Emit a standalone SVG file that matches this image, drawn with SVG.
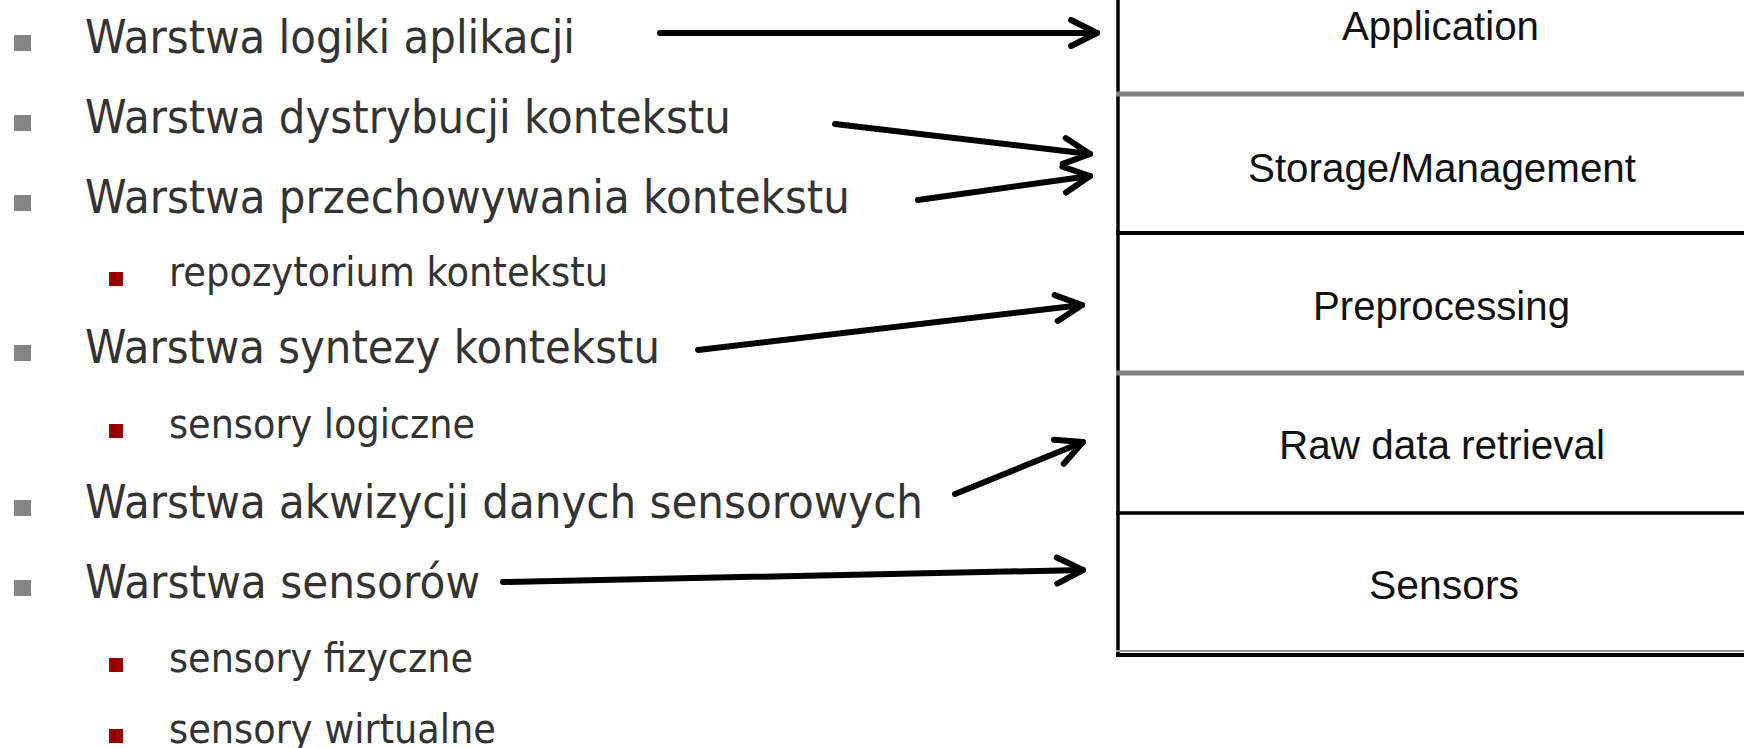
<svg xmlns="http://www.w3.org/2000/svg" width="1744" height="748" viewBox="0 0 1744 748">
<style>
.main{font-family:"DejaVu Sans","Liberation Sans",sans-serif;font-size:47px;fill:#333333}
.sub{font-family:"DejaVu Sans","Liberation Sans",sans-serif;font-size:41px;fill:#333333}
.b1{fill:#858585}
.b2{fill:#990000}
.lbl{font-family:"Liberation Sans",Arial,sans-serif;font-size:40px;fill:#111111}
.arr{stroke:#000;stroke-width:6;stroke-linecap:round;fill:none;marker-end:url(#head)}
</style>
<defs>
<marker id="head" markerUnits="userSpaceOnUse" viewBox="-34 -20 40 40" refX="0" refY="0" markerWidth="40" markerHeight="40" orient="auto" overflow="visible">
<path d="M-26,-13 L0,0 L-26,13" fill="none" stroke="#000" stroke-width="6" stroke-linecap="round" stroke-linejoin="round"/>
</marker>
</defs>
<rect width="1744" height="748" fill="#ffffff"/>
<g id="list">
<g id="item1"><rect class="b1" x="14" y="35" width="17" height="16"/><text class="main" x="85" y="53" textLength="490" lengthAdjust="spacingAndGlyphs">Warstwa logiki aplikacji</text></g>
<g id="item2"><rect class="b1" x="14" y="115" width="17" height="16"/><text class="main" x="85" y="133" textLength="646" lengthAdjust="spacingAndGlyphs">Warstwa dystrybucji kontekstu</text></g>
<g id="item3"><rect class="b1" x="14" y="195" width="17" height="16"/><text class="main" x="85" y="213" textLength="765" lengthAdjust="spacingAndGlyphs">Warstwa przechowywania kontekstu</text></g>
<g id="item3a"><rect class="b2" x="109" y="272" width="14" height="14"/><text class="sub" x="169" y="286" textLength="439" lengthAdjust="spacingAndGlyphs">repozytorium kontekstu</text></g>
<g id="item4"><rect class="b1" x="14" y="345" width="17" height="16"/><text class="main" x="85" y="363" textLength="575" lengthAdjust="spacingAndGlyphs">Warstwa syntezy kontekstu</text></g>
<g id="item4a"><rect class="b2" x="109" y="424" width="14" height="14"/><text class="sub" x="169" y="438" textLength="306" lengthAdjust="spacingAndGlyphs">sensory logiczne</text></g>
<g id="item5"><rect class="b1" x="14" y="500" width="17" height="16"/><text class="main" x="85" y="518" textLength="838" lengthAdjust="spacingAndGlyphs">Warstwa akwizycji danych sensorowych</text></g>
<g id="item6"><rect class="b1" x="14" y="580" width="17" height="16"/><text class="main" x="85" y="598" textLength="395" lengthAdjust="spacingAndGlyphs">Warstwa sensorów</text></g>
<g id="item6a"><rect class="b2" x="109" y="658" width="14" height="14"/><text class="sub" x="169" y="672" textLength="304" lengthAdjust="spacingAndGlyphs">sensory fizyczne</text></g>
<g id="item6b"><rect class="b2" x="109" y="729" width="14" height="14"/><text class="sub" x="169" y="743" textLength="327" lengthAdjust="spacingAndGlyphs">sensory wirtualne</text></g>
</g>
<g id="stack">
<line x1="1118" y1="0" x2="1118" y2="657" stroke="#000" stroke-width="3.5"/>
<line x1="1116" y1="94" x2="1744" y2="94" stroke="#808080" stroke-width="5"/>
<line x1="1116" y1="233" x2="1744" y2="233" stroke="#000" stroke-width="4"/>
<line x1="1116" y1="373" x2="1744" y2="373" stroke="#808080" stroke-width="5"/>
<line x1="1116" y1="513" x2="1744" y2="513" stroke="#000" stroke-width="3.5"/>
<line x1="1116" y1="651" x2="1744" y2="651" stroke="#9a9a9a" stroke-width="2"/>
<line x1="1116" y1="655" x2="1744" y2="655" stroke="#000" stroke-width="4"/>
</g>
<g id="layer-application"><text class="lbl" x="1342" y="40" textLength="197" lengthAdjust="spacingAndGlyphs">Application</text></g>
<g id="layer-storage"><text class="lbl" x="1248" y="182" textLength="388" lengthAdjust="spacingAndGlyphs">Storage/Management</text></g>
<g id="layer-preprocessing"><text class="lbl" x="1313" y="320" textLength="257" lengthAdjust="spacingAndGlyphs">Preprocessing</text></g>
<g id="layer-raw"><text class="lbl" x="1279" y="459" textLength="326" lengthAdjust="spacingAndGlyphs">Raw data retrieval</text></g>
<g id="layer-sensors"><text class="lbl" x="1369" y="599" textLength="150" lengthAdjust="spacingAndGlyphs">Sensors</text></g>
<g id="connectors">
<line class="arr" x1="660" y1="33" x2="1097" y2="33"/>
<line class="arr" x1="835" y1="124" x2="1090" y2="154"/>
<line class="arr" x1="918" y1="200" x2="1090" y2="176"/>
<line class="arr" x1="698" y1="350" x2="1082" y2="305"/>
<line class="arr" x1="955" y1="494" x2="1083" y2="442"/>
<line class="arr" x1="503" y1="582" x2="1083" y2="570"/>
</g>
</svg>
